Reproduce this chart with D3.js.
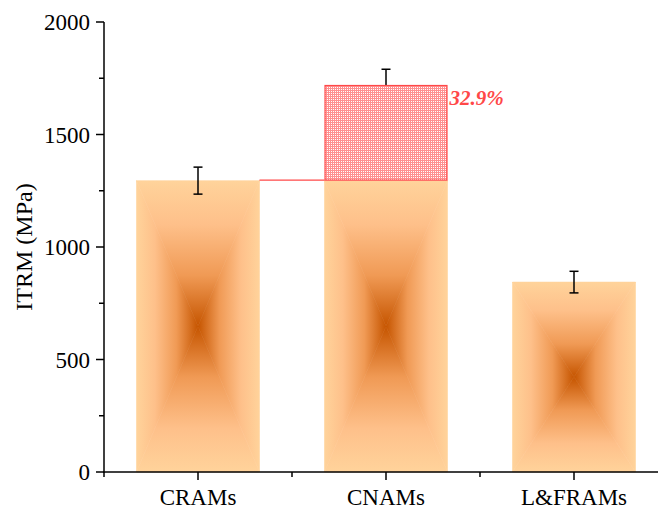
<!DOCTYPE html>
<html><head><meta charset="utf-8">
<script src="https://cdn.jsdelivr.net/npm/d3@7"></script>
<style>body{margin:0;background:#fff}svg{display:block}</style>
</head><body>
<svg id="c" width="658" height="510"></svg>
<script>
const categories = ["CRAMs", "CNAMs", "L&FRAMs"];
const values = [1295, 1295, 844];
const errors = [60, 70, 48];
const enhancedValue = 1720;      // CNAMs total
const enhanceIndex = 1;
const enhanceLabel = "32.9%";
const yTicks = [0, 500, 1000, 1500, 2000];
const yMinorTicks = [250, 750, 1250, 1750];

const FONT = '"Liberation Serif"';
const svg = d3.select("#c");
const W = 658, H = 510;
const x0 = 104, y0 = 472;
const y = d3.scaleLinear().domain([0, 2000]).range([472, 22]);
const x = d3.scaleBand().domain(categories).range([104, 668]).paddingInner(0.346).paddingOuter(0.173);
const bw = x.bandwidth();
const step = x.step();

const defs = svg.append("defs");
const pat = defs.append("pattern").attr("id", "hatch").attr("patternUnits", "userSpaceOnUse")
  .attr("width", 2).attr("height", 2);
pat.append("rect").attr("width", 2).attr("height", 2).attr("fill", "#fff");
pat.append("rect").attr("width", 2).attr("height", 1).attr("fill", "#ff9090");
pat.append("rect").attr("width", 1).attr("height", 2).attr("fill", "#ff9090");

const stops = [[0, "#ffd39b"], [0.3, "#fec08a"], [0.65, "#f09a55"], [1, "#c65500"]];
function grad(id, xa, ya, xb, yb) {
  const g = defs.append("linearGradient").attr("id", id).attr("gradientUnits", "userSpaceOnUse")
    .attr("x1", xa).attr("y1", ya).attr("x2", xb).attr("y2", yb);
  stops.forEach(s => g.append("stop").attr("offset", s[0]).attr("stop-color", s[1]));
}

const gBars = svg.append("g");
categories.forEach((c, i) => {
  const L = x(c), R = L + bw, T = y(values[i]), B = y(0);
  const cx = (L + R) / 2, cy = (T + B) / 2;
  grad("gt" + i, cx, T, cx, cy);
  grad("gb" + i, cx, B, cx, cy);
  grad("gl" + i, L, cy, cx, cy);
  grad("gr" + i, R, cy, cx, cy);
  const polys = [
    [[L, T], [R, T], [cx, cy], "gt"],
    [[L, B], [R, B], [cx, cy], "gb"],
    [[L, T], [L, B], [cx, cy], "gl"],
    [[R, T], [R, B], [cx, cy], "gr"]
  ];
  polys.forEach(p => {
    gBars.append("polygon").attr("points", p.slice(0, 3).map(q => q.join(",")).join(" "))
      .attr("fill", `url(#${p[3]}${i})`).attr("stroke", `url(#${p[3]}${i})`).attr("stroke-width", 0.6);
  });
});

const gErr = svg.append("g").attr("stroke", "#000").attr("stroke-width", 1.5);
categories.forEach((c, i) => {
  const cx = x(c) + bw / 2;
  const top = i === enhanceIndex ? enhancedValue : values[i];
  const e = errors[i];
  gErr.append("line").attr("x1", cx).attr("x2", cx).attr("y1", y(top + e)).attr("y2", y(top - e));
  gErr.append("line").attr("x1", cx - 4.5).attr("x2", cx + 4.5).attr("y1", y(top + e)).attr("y2", y(top + e));
  gErr.append("line").attr("x1", cx - 4.5).attr("x2", cx + 4.5).attr("y1", y(top - e)).attr("y2", y(top - e));
});

{
  const c = categories[enhanceIndex];
  const L = x(c);
  svg.append("rect").attr("x", L + 0.5).attr("y", y(enhancedValue) + 0.5)
    .attr("width", bw - 1).attr("height", y(values[enhanceIndex]) - y(enhancedValue) - 1)
    .attr("fill", "url(#hatch)").attr("stroke", "#ff4848").attr("stroke-width", 1.2);
  const prev = categories[enhanceIndex - 1];
  svg.append("line").attr("x1", x(prev) + bw).attr("x2", L)
    .attr("y1", y(values[enhanceIndex - 1]) - 0.5).attr("y2", y(values[enhanceIndex - 1]) - 0.5)
    .attr("stroke", "#ff4848").attr("stroke-width", 1.2);
  svg.append("text").attr("x", L + bw + 2).attr("y", y(enhancedValue) + 20)
    .attr("fill", "#ff4848").attr("font-size", 21).attr("font-weight", "bold").attr("font-style", "italic")
    .style("font-family", FONT).text(enhanceLabel);
}

const ax = svg.append("g").attr("stroke", "#000").attr("stroke-width", 1.5);
ax.append("line").attr("x1", x0).attr("x2", x0).attr("y1", y(2000)).attr("y2", y0 + 0.75);
ax.append("line").attr("x1", x0 - 0.75).attr("x2", W).attr("y1", y0).attr("y2", y0);
yTicks.forEach(v => ax.append("line").attr("x1", x0 - 8).attr("x2", x0).attr("y1", y(v)).attr("y2", y(v)));
yMinorTicks.forEach(v => ax.append("line").attr("x1", x0 - 5).attr("x2", x0).attr("y1", y(v)).attr("y2", y(v)));
categories.forEach(c => {
  const cx = x(c) + bw / 2;
  ax.append("line").attr("x1", cx).attr("x2", cx).attr("y1", y0).attr("y2", y0 + 8);
});
categories.forEach(c => {
  const mx = x(c) - (step - bw) / 2;
  ax.append("line").attr("x1", mx).attr("x2", mx).attr("y1", y0).attr("y2", y0 + 5);
});

svg.append("g").selectAll("text").data(yTicks).join("text")
  .attr("x", x0 - 14).attr("y", d => y(d)).attr("dy", "0.35em").attr("text-anchor", "end")
  .attr("font-size", 23).attr("fill", "#000").style("font-family", FONT).text(d => d);
svg.append("g").selectAll("text").data(categories).join("text")
  .attr("x", d => x(d) + bw / 2).attr("y", 505).attr("text-anchor", "middle")
  .attr("font-size", 23).attr("fill", "#000").style("font-family", FONT).text(d => d);
svg.append("text").attr("transform", `translate(32,${(y(0) + y(2000)) / 2}) rotate(-90)`)
  .attr("text-anchor", "middle").attr("font-size", 24).attr("fill", "#000").style("font-family", FONT).text("ITRM (MPa)");
</script>
</body></html>
